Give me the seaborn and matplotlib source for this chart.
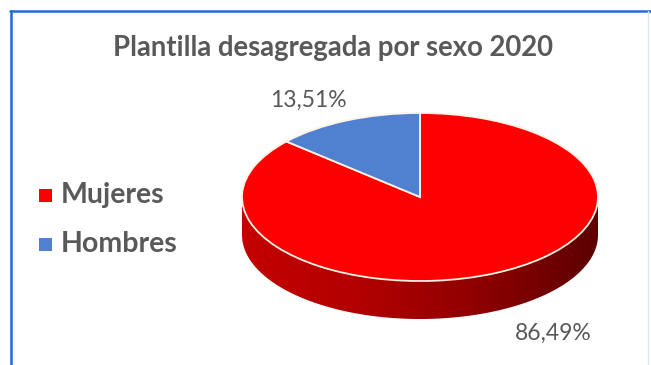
import numpy as np
import matplotlib
matplotlib.use("Agg")
import matplotlib.pyplot as plt
import seaborn as sns
from matplotlib.patches import PathPatch, Rectangle
from matplotlib.path import Path
from matplotlib.colors import LinearSegmentedColormap
from matplotlib.lines import Line2D

# ---- data ----
categories = ["Mujeres", "Hombres"]
values = [86.49, 13.51]
value_labels = ["86,49%", "13,51%"]
title = "Plantilla desagregada por sexo 2020"
colors = ["#FF0000", "#4F81D0"]

sns.set_theme(style="white")
plt.rcParams["font.family"] = ["Lato", "DejaVu Sans"]

W, H = 651, 365
fig = plt.figure(figsize=(W / 100, H / 100), dpi=100)
fig.patch.set_facecolor("white")

# geometry (pixels)
cx_px, cy_px = 420, 197
a_px, b_px = 178, 84
depth_px = 38
k = a_px / b_px

ax = fig.add_axes([0, 0, 1, 1])
cx = cx_px
cy = (H - cy_px) * k
depth = depth_px * k

# side of the 3D pie: gradient clipped to the extruded ellipse band
t = np.linspace(np.pi, 2 * np.pi, 200)
lower = np.column_stack([cx + a_px * np.cos(t), cy - depth + a_px * np.sin(t)])
t2 = np.linspace(0, np.pi, 200)
upper = np.column_stack([cx + a_px * np.cos(t2), cy + a_px * np.sin(t2)])
verts = np.vstack([lower, upper, lower[:1]])
side_path = Path(verts, closed=True)
side_patch = PathPatch(side_path, facecolor="none", edgecolor="none")
ax.add_patch(side_patch)
cmap = LinearSegmentedColormap.from_list(
    "side", ["#C40000", "#B20000", "#8E0000", "#5C0000"])
grad = np.linspace(0, 1, 256).reshape(1, -1)
img = ax.imshow(grad, cmap=cmap, aspect="auto",
                extent=[cx - a_px, cx + a_px, cy - depth - a_px, cy + a_px],
                zorder=1)
img.set_clip_path(side_patch)

# top surface
wedges, _ = ax.pie(values, colors=colors, startangle=90, counterclock=False,
                   center=(cx, cy), radius=a_px,
                   wedgeprops=dict(edgecolor="#FFF3E6", linewidth=1.3, zorder=3))
for w in wedges:
    w.set_zorder(3)

ax.set_aspect("auto")
ax.set_xlim(0, W)
ax.set_ylim(0, H * k)
ax.axis("off")

txt_color = "#595959"
fig.text(333 / W, 1 - 48 / H, title, ha="center", va="center",
         fontsize=19.8, fontweight="bold", color=txt_color)
fig.text(308 / W, 1 - 100 / H, value_labels[1], ha="center", va="center",
         fontsize=16.5, color=txt_color)
fig.text(553 / W, 1 - 333 / H, value_labels[0], ha="center", va="center",
         fontsize=16.5, color=txt_color)

# legend (drawn entry by entry)
legend_rows_y = [195, 244]
for w, lab, yy in zip(wedges, categories, legend_rows_y):
    fig.add_artist(Rectangle((39 / W, 1 - (yy + 6.5) / H), 13 / W, 13 / H,
                             transform=fig.transFigure,
                             facecolor=w.get_facecolor(), edgecolor="none"))
    fig.text(61 / W, 1 - yy / H, lab, ha="left", va="center",
             fontsize=20.5, fontweight="bold", color=txt_color)

# frame lines
fig.add_artist(Line2D([10 / W, 1], [1 - 11 / H, 1 - 11 / H],
                      transform=fig.transFigure, color="#1C6FD0", lw=1.8))
fig.add_artist(Line2D([11 / W, 11 / W], [0, 1 - 11 / H],
                      transform=fig.transFigure, color="#1C6FD0", lw=1.8))
fig.add_artist(Line2D([648 / W, 648 / W], [0, 1 - 11 / H],
                      transform=fig.transFigure, color="#D8E8F8", lw=1.0))

fig.savefig("out.png", dpi=100)
